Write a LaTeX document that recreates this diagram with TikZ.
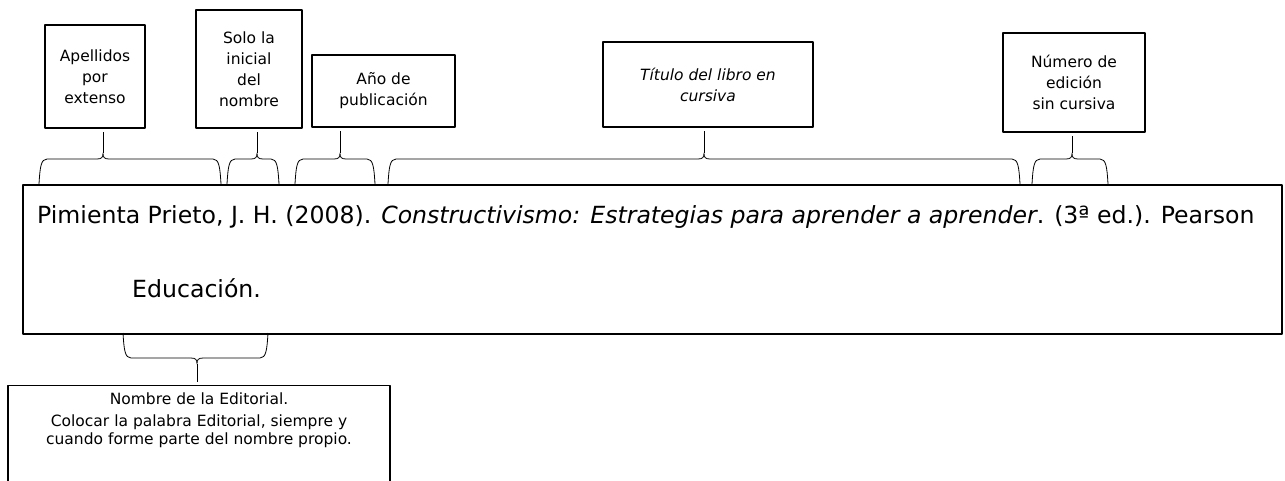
\documentclass[tikz,border=0pt]{standalone}
\usepackage{fontspec}
\setmainfont{DejaVu Sans}
\usetikzlibrary{positioning}

% llave: x izq, x punta, x der, borde, sentido (1 arriba, -1 abajo), punta, ancla de la nota
\newcommand{\llave}[7]{%
  \draw[fino] (#1,#4)
    .. controls ({#1+1},{#4+17*(#5)}) and ({#1+2},{#4+25*(#5)}) .. ({#1+8},{#4+25*(#5)})
    -- ({#2-6},{#4+25*(#5)})
    .. controls ({#2-1},{#4+25*(#5)}) and (#2,{#4+27*(#5)}) .. (#2,{#4+31*(#5)})
    .. controls (#2,{#4+27*(#5)}) and ({#2+1},{#4+25*(#5)}) .. ({#2+6},{#4+25*(#5)})
    -- ({#3-8},{#4+25*(#5)})
    .. controls ({#3-2},{#4+25*(#5)}) and ({#3-1},{#4+17*(#5)}) .. (#3,#4);
  \coordinate (#6) at (#2,{#4+31*(#5)});
  \draw[fino, shorten >=3pt] (#6) -- (#6 |- #7);
}

\begin{document}
\begin{tikzpicture}[x=1pt, y=1pt, line join=round]
\tikzset{
    nota/.style={rectangle, draw=black, line width=1.1pt, align=center, inner sep=2pt, font=\fontsize{15.5}{21}\selectfont},
    caja/.style={rectangle, draw=black, line width=1.6pt},
    cita/.style={anchor=base west, inner sep=0pt, font=\fontsize{23.6}{28}\selectfont},
    fino/.style={line width=0.8pt}
}
\useasboundingbox (0,0) rectangle (1285,-480);

% referencia
\node[caja, minimum width=1259pt, minimum height=149pt, anchor=north west] (ref) at (22,-184) {};
\node[cita] (linea1) at (37,-223) {Pimienta Prieto, J. H. (2008). \textit{Constructivismo: Estrategias para aprender a aprender}. (3ª ed.). Pearson};
\node[cita] (linea2) at (132,-297) {Educación.};

% notas
\node[nota, minimum width=100pt, minimum height=103pt] (ape) at (95,-76.5) {Apellidos\\por\\extenso};
\node[nota, minimum width=106pt, minimum height=118pt] (sol) at (249,-69) {Solo la\\inicial\\del\\nombre};
\node[nota, minimum width=143pt, minimum height=72pt] (ano) at (383.5,-91) {Año de\\publicación};
\node[nota, minimum width=210pt, minimum height=85pt, font=\fontsize{15.5}{21}\selectfont\itshape] (tit) at (708,-84.5) {Título del libro en\\cursiva};
\node[nota, minimum width=142pt, minimum height=99pt] (num) at (1074,-82.5) {Número de\\edición\\sin cursiva};
\node[nota, minimum width=382pt, minimum height=100pt, anchor=north] (edi) at (199,-385) {};
\node[below=4pt of edi.north, align=center, font=\fontsize{15.5}{18}\selectfont] (editxt) {Nombre de la Editorial.\\[4pt]Colocar la palabra Editorial, siempre y\\cuando forme parte del nombre propio.};

% llaves
\llave{39}{103}{221}{-184}{1}{pape}{ape.south}
\llave{227}{257}{279}{-184}{1}{psol}{sol.south}
\llave{295}{340}{375}{-184}{1}{pano}{ano.south}
\llave{388}{704}{1020}{-184}{1}{ptit}{tit.south}
\llave{1032}{1072}{1108}{-184}{1}{pnum}{num.south}
\llave{123}{197}{268}{-333}{-1}{pedi}{edi.north}

\end{tikzpicture}
\end{document}
